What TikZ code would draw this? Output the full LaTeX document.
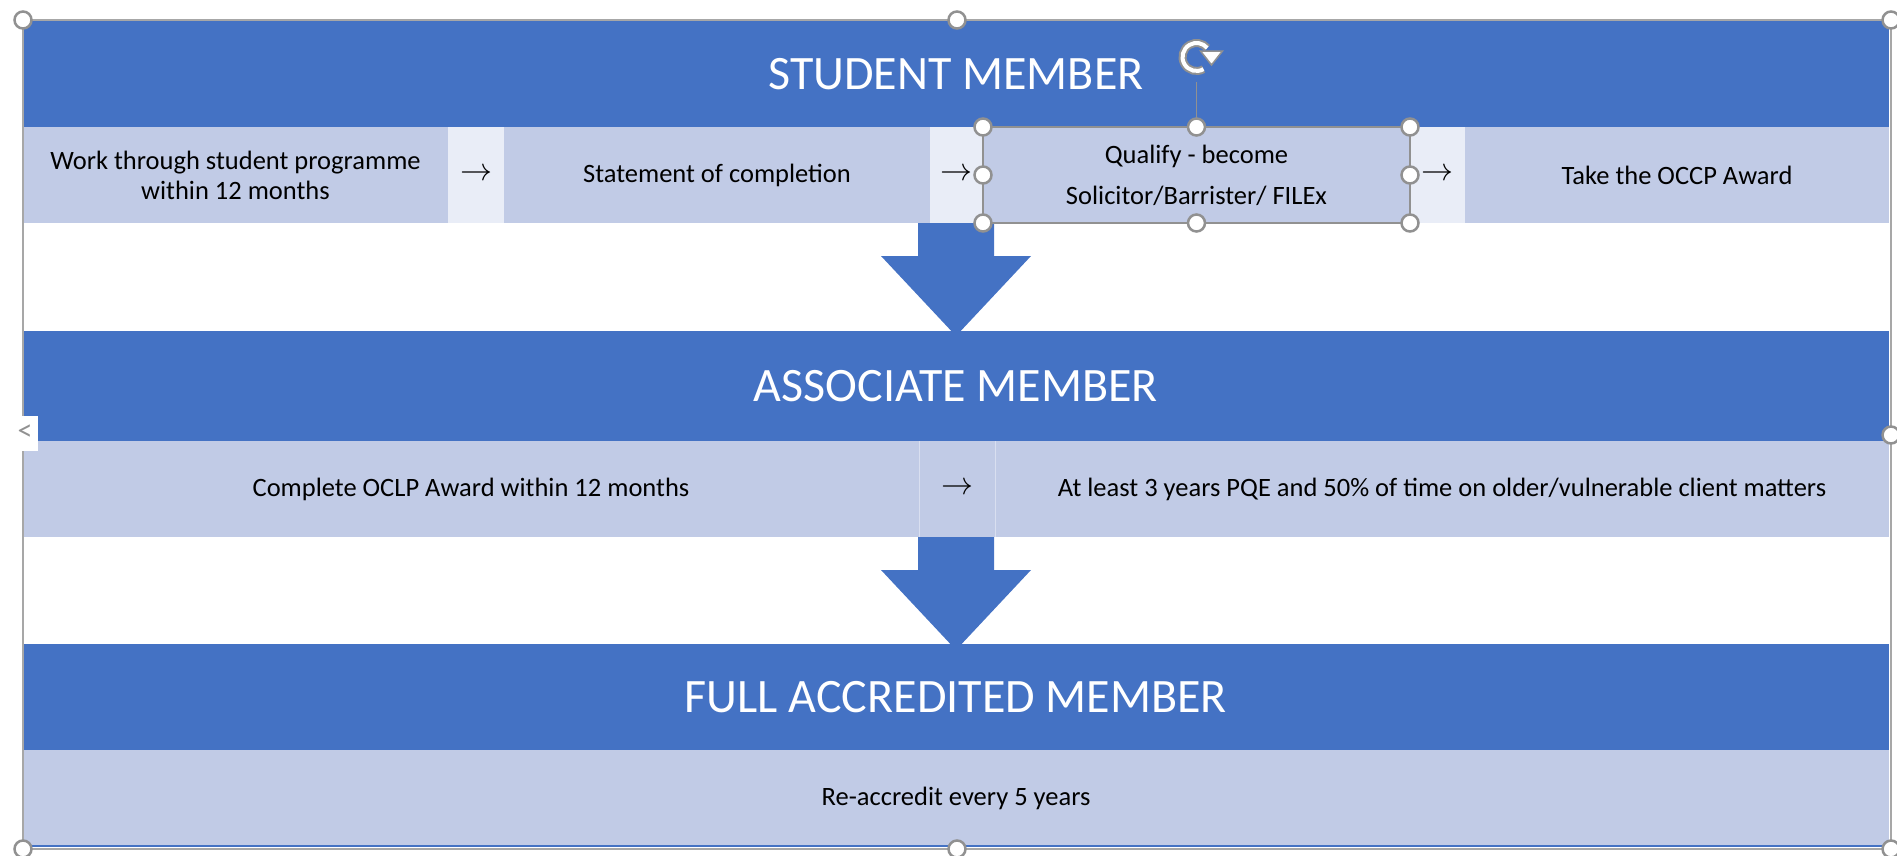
\RequirePackage{fix-cm}
\documentclass[tikz,border=0pt]{standalone}
\usepackage{fontspec}
\setmainfont{Carlito}
\usetikzlibrary{positioning,calc}
\definecolor{bandblue}{RGB}{68,114,196}
\definecolor{cellblue}{RGB}{193,203,230}
\definecolor{gapblue}{RGB}{233,237,247}
\definecolor{handlegray}{RGB}{145,145,145}
\tikzset{
  band/.style={fill=bandblue,text=white,anchor=north west,minimum width=1866,minimum height=106,inner sep=0,outer sep=0,font=\fontsize{48}{58}\selectfont},
  cell/.style={fill=cellblue,anchor=north west,minimum height=96,inner sep=0,outer sep=0,align=center,font=\fontsize{26.5}{30}\selectfont},
  gapcell/.style={cell,fill=gapblue,font=\fontsize{32}{36}\selectfont},
  handle/.style={circle,draw=handlegray,fill=white,line width=2.5,minimum size=17,inner sep=0},
  downarrow/.pic={\fill[bandblue] (-38,0) -- (38,0) -- (38,33) -- (75,33) -- (0,113) -- (-75,33) -- (-38,33) -- cycle;}
}
\begin{document}
\begin{tikzpicture}[x=1pt,y=-1pt]
\useasboundingbox (0,0) rectangle (1897,855);
% student level
\node[band] (student) at (23,21) {STUDENT MEMBER};
\node[cell,minimum width=425] (programme) at (student.south west) {Work through student programme\\within 12 months};
\node[gapcell,minimum width=56,right=0pt of programme] (g1) {$\rightarrow$};
\node[cell,minimum width=426,right=0pt of g1] (statement) {Statement of completion};
\node[gapcell,minimum width=53,right=0pt of statement] (g2) {$\rightarrow$};
\node[cell,minimum width=427,right=0pt of g2,font=\fontsize{26.5}{41}\selectfont] (qualify) {Qualify - become\\Solicitor/Barrister/ FILEx};
\node[gapcell,minimum width=55,right=0pt of qualify] (g3) {$\rightarrow$};
\node[cell,minimum width=424,right=0pt of g3] (occp) {Take the OCCP Award};
\pic at (student.south |- programme.south) {downarrow};
% associate level
\node[band,minimum height=110] (associate) at (23,331) {ASSOCIATE MEMBER};
\node[cell,minimum width=896] (oclp) at (associate.south west) {Complete OCLP Award within 12 months};
\node[cell,minimum width=76,right=0pt of oclp,font=\fontsize{32}{36}\selectfont] (g4) {$\rightarrow$};
\node[cell,minimum width=894,right=0pt of g4] (pqe) {At least 3 years PQE and 50\% of time on older/vulnerable client matters};
\draw[gapblue!60!cellblue,line width=1] (g4.north west) -- (g4.south west) (g4.north east) -- (g4.south east);
\pic at (associate.south |- oclp.south) {downarrow};
% full level
\node[band] (full) at (23,644) {FULL ACCREDITED MEMBER};
\node[cell,minimum width=1866] (reaccredit) at (full.south west) {Re-accredit every 5 years};
\draw[bandblue,line width=2] (reaccredit.south west) -- (reaccredit.south east);
% selection frame and handles
\coordinate (fnw) at (23,20);
\coordinate (fse) at (1891,849);
\draw[handlegray!80,line width=1.5] (fnw) rectangle (fse);
\node[fill=white,minimum width=25,minimum height=35,inner sep=0,text=handlegray,font=\fontsize{30}{32}\selectfont] (tab) at (25,433) {<};
\foreach \hx/\hy in {23/20,957/20,1891/20,1891/435,23/849,957/849,1891/849}
  \node[handle] at (\hx,\hy) {};
\draw[handlegray,line width=1.5] (qualify.north west) rectangle (qualify.south east);
\draw[handlegray,line width=1.2] (qualify.north) -- ++(0,-45) coordinate (rotbase);
\foreach \a in {north west,north,north east,west,east,south west,south,south east}
  \node[handle] at (qualify.\a) {};
\coordinate (rot) at ([yshift=25pt]rotbase);
\draw[handlegray,line width=8pt] ([shift={(-60:14pt)}]rot) arc[start angle=-60,end angle=-320,radius=14pt];
\draw[white,line width=4pt] ([shift={(-60:14pt)}]rot) arc[start angle=-60,end angle=-320,radius=14pt];
\filldraw[fill=white,draw=handlegray,line width=1.5pt] ([shift={(4pt,6pt)}]rot) -- ([shift={(26pt,6pt)}]rot) -- ([shift={(15pt,-8pt)}]rot) -- cycle;
\end{tikzpicture}
\end{document}
